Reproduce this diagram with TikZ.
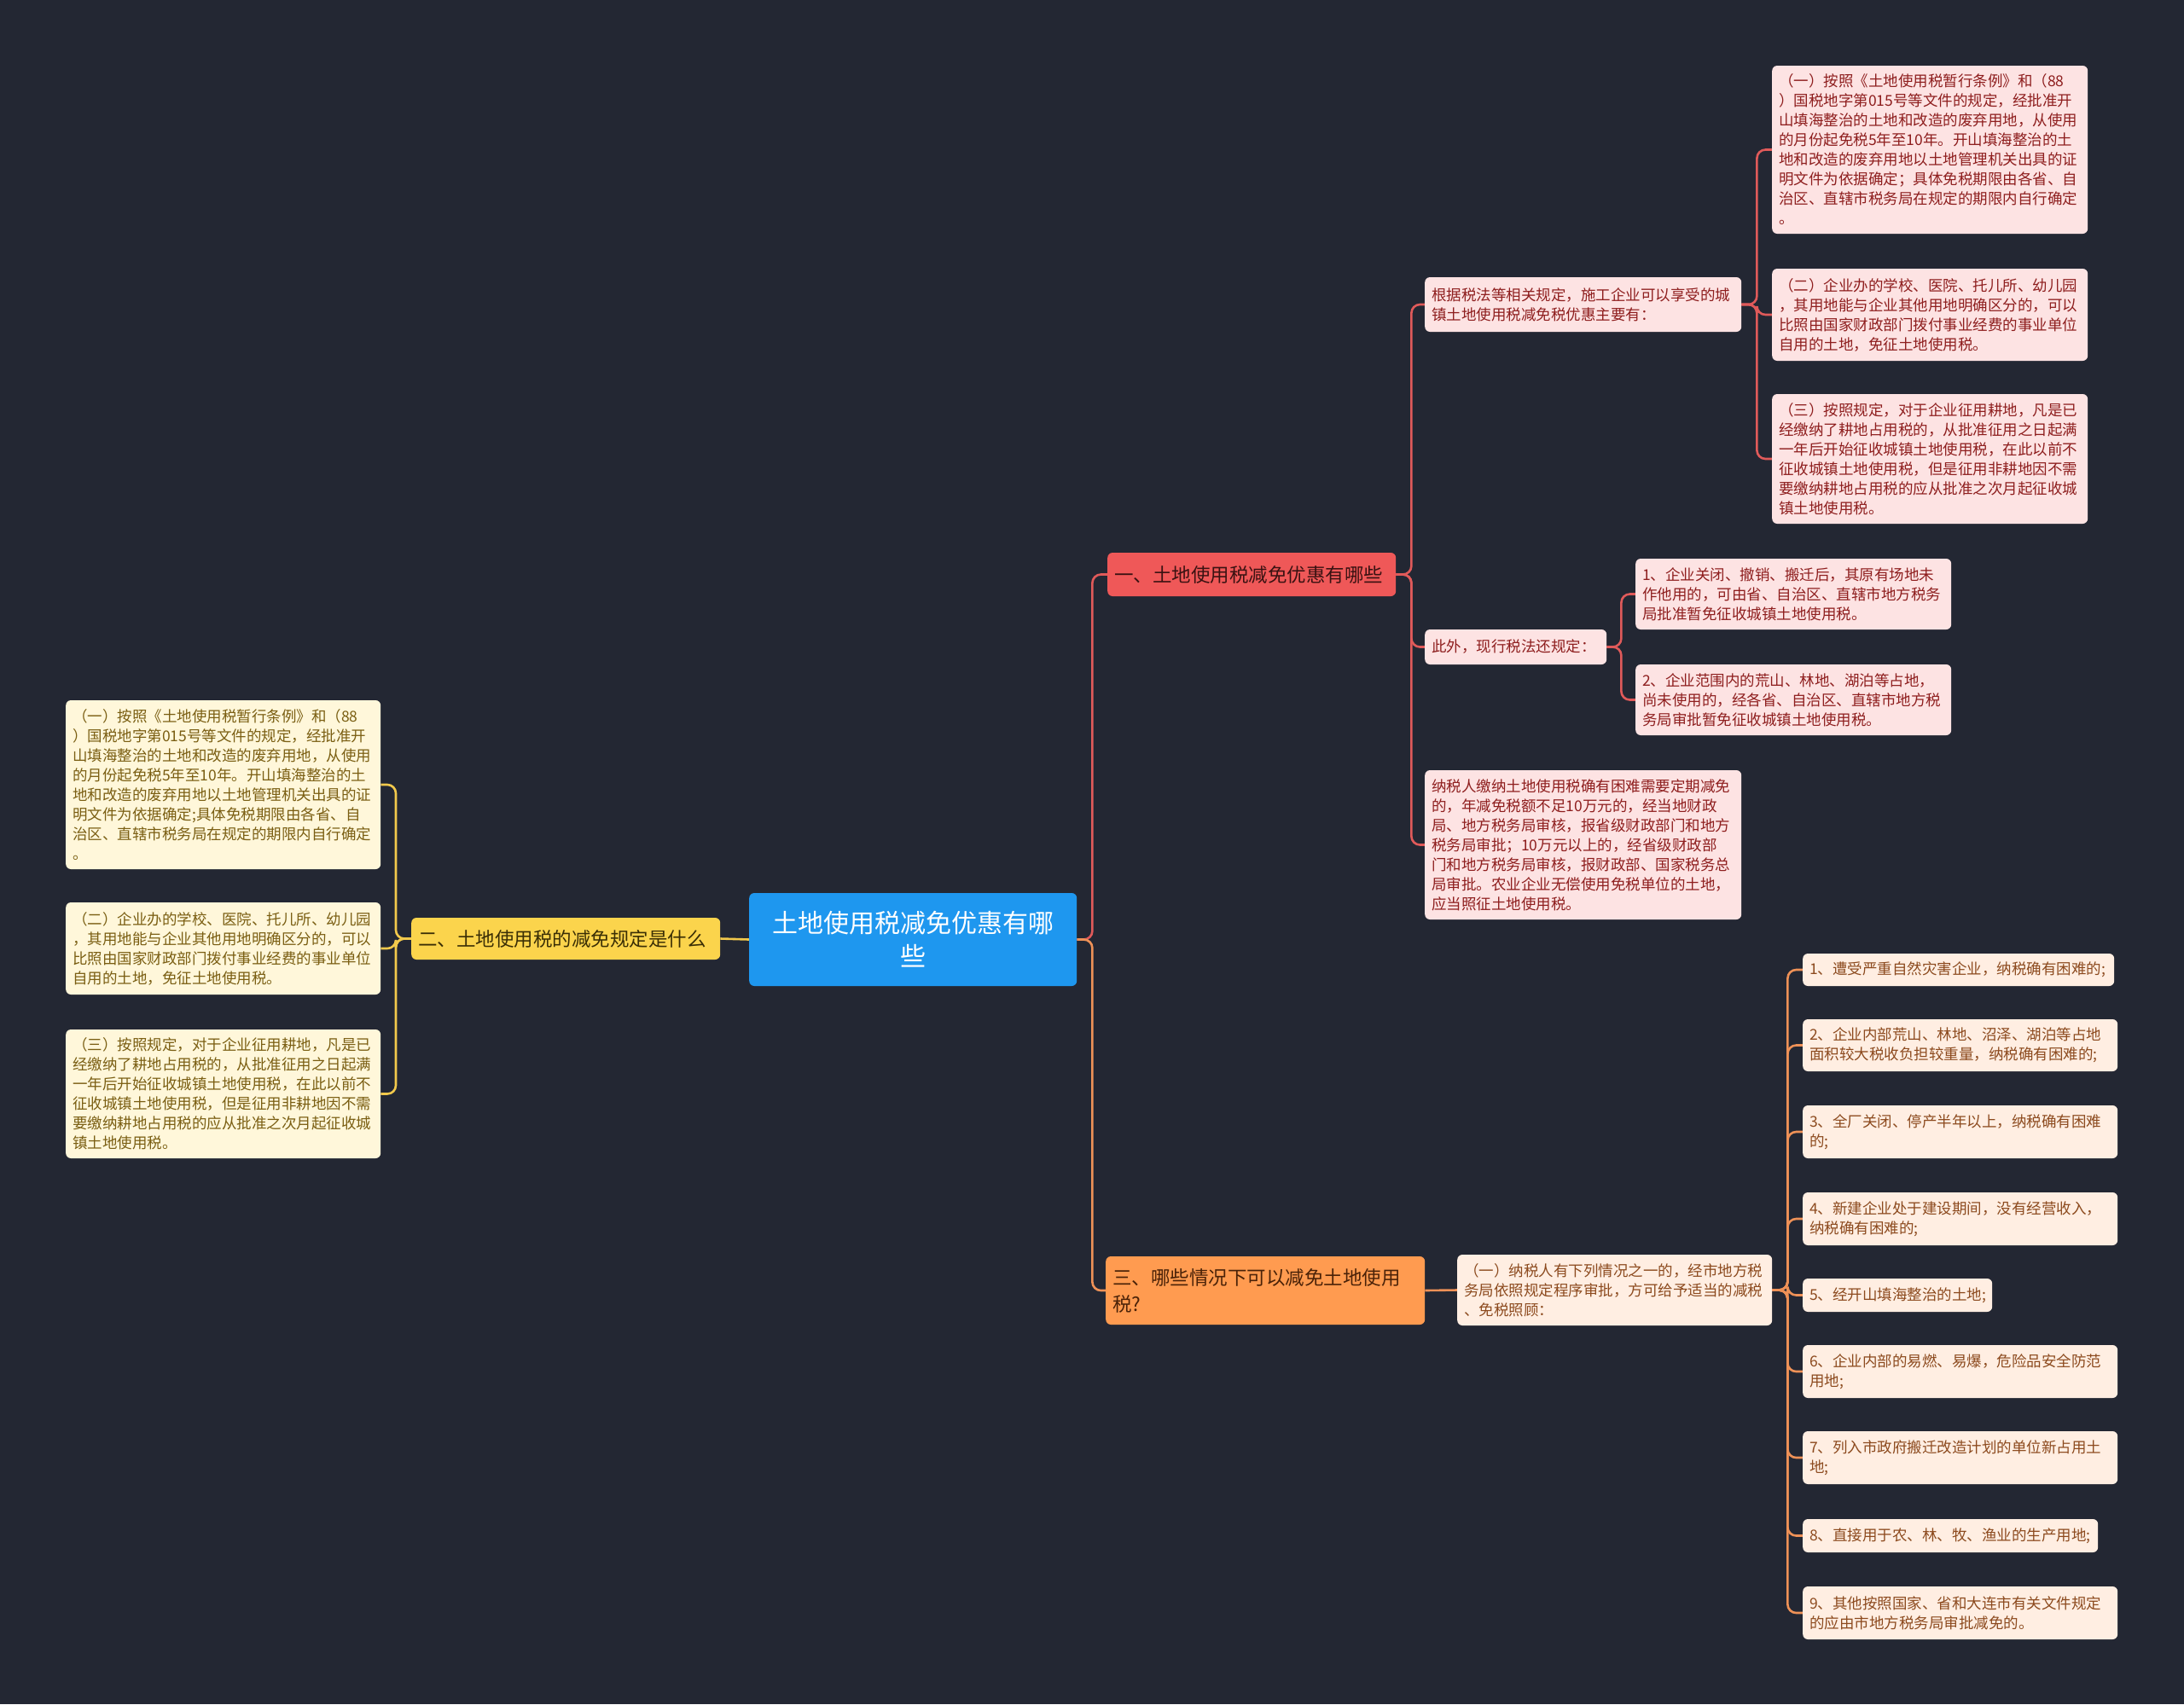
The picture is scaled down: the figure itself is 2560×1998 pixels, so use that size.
\documentclass[tikz,border=0pt]{standalone}
\usepackage{fontspec}
\setmainfont{Noto Sans CJK SC}
\definecolor{bgc}{HTML}{232733}
\definecolor{rootfill}{HTML}{1E97EF}
\definecolor{redfill}{HTML}{EF5858}
\definecolor{redtext}{HTML}{3A1212}
\definecolor{yelfill}{HTML}{FBD44C}
\definecolor{yeltext}{HTML}{3A2E05}
\definecolor{orafill}{HTML}{FF9B50}
\definecolor{oratext}{HTML}{4A2208}
\definecolor{leafRfill}{HTML}{FDE3E3}
\definecolor{leafRtext}{HTML}{8E1E1E}
\definecolor{leafYfill}{HTML}{FFF7DA}
\definecolor{leafYtext}{HTML}{7A5E12}
\definecolor{leafOfill}{HTML}{FFEEE2}
\definecolor{leafOtext}{HTML}{8C4A1E}
\definecolor{lineR}{HTML}{E05A5A}
\definecolor{lineY}{HTML}{F2C94C}
\definecolor{lineO}{HTML}{EE9157}
\pgfdeclarelayer{bglayer}
\pgfsetlayers{bglayer,main}
\begin{document}
\begin{tikzpicture}[x=1pt,y=-1pt,
  base/.style={rounded corners=6pt, inner xsep=8pt, inner ysep=3pt, anchor=west, align=left, font=\fontsize{17.5}{23}\selectfont},
  leafR/.style={base, fill=leafRfill, text=leafRtext},
  leafY/.style={base, fill=leafYfill, text=leafYtext},
  leafO/.style={base, fill=leafOfill, text=leafOtext},
  branchR/.style={base, fill=redfill, text=redtext, font=\fontsize{22.5}{31}\selectfont},
  branchY/.style={base, fill=yelfill, text=yeltext, font=\fontsize{22.5}{31}\selectfont},
  branchO/.style={base, fill=orafill, text=oratext, font=\fontsize{22.5}{31}\selectfont},
  rootbox/.style={base, fill=rootfill, text=white, align=center, font=\fontsize{30}{39}\selectfont},
  conR/.style={draw=lineR, line width=2.6pt, rounded corners=10pt},
  conY/.style={draw=lineY, line width=2.6pt, rounded corners=10pt},
  conO/.style={draw=lineO, line width=2.6pt, rounded corners=10pt}
]
% root
\node[rootbox, text width=368pt, minimum height=109pt] (root) at (878,1101.5) {土地使用税减免优惠有哪\\些};

% branch 1
\node[branchR, text width=322pt, minimum height=51pt] (n1) at (1298,673.5) {一、土地使用税减免优惠有哪些};
\node[leafR, text width=355pt, minimum height=64pt] (a) at (1670,357) {根据税法等相关规定，施工企业可以享受的城\\镇土地使用税减免税优惠主要有：};
\node[leafR, text width=197pt, minimum height=41pt] (b) at (1670,758.5) {此外，现行税法还规定：};
\node[leafR, text width=355pt, minimum height=175pt] (c) at (1670,990.5) {纳税人缴纳土地使用税确有困难需要定期减免\\的，年减免税额不足10万元的，经当地财政\\局、地方税务局审核，报省级财政部门和地方\\税务局审批；10万元以上的，经省级财政部\\门和地方税务局审核，报财政部、国家税务总\\局审批。农业企业无偿使用免税单位的土地，\\应当照征土地使用税。};
\node[leafR, text width=354pt, minimum height=197pt] (a1) at (2077,175.5) {（一）按照《土地使用税暂行条例》和（88\\）国税地字第015号等文件的规定，经批准开\\山填海整治的土地和改造的废弃用地，从使用\\的月份起免税5年至10年。开山填海整治的土\\地和改造的废弃用地以土地管理机关出具的证\\明文件为依据确定；具体免税期限由各省、自\\治区、直辖市税务局在规定的期限内自行确定\\。};
\node[leafR, text width=354pt, minimum height=108pt] (a2) at (2077,369) {（二）企业办的学校、医院、托儿所、幼儿园\\，其用地能与企业其他用地明确区分的，可以\\比照由国家财政部门拨付事业经费的事业单位\\自用的土地，免征土地使用税。};
\node[leafR, text width=354pt, minimum height=152pt] (a3) at (2077,538) {（三）按照规定，对于企业征用耕地，凡是已\\经缴纳了耕地占用税的，从批准征用之日起满\\一年后开始征收城镇土地使用税，在此以前不\\征收城镇土地使用税，但是征用非耕地因不需\\要缴纳耕地占用税的应从批准之次月起征收城\\镇土地使用税。};
\node[leafR, text width=354pt, minimum height=83pt] (b1) at (1917,696.5) {1、企业关闭、撤销、搬迁后，其原有场地未\\作他用的，可由省、自治区、直辖市地方税务\\局批准暂免征收城镇土地使用税。};
\node[leafR, text width=354pt, minimum height=83pt] (b2) at (1917,820.5) {2、企业范围内的荒山、林地、湖泊等占地，\\尚未使用的，经各省、自治区、直辖市地方税\\务局审批暂免征收城镇土地使用税。};

% branch 2
\node[branchY, text width=346pt, minimum height=49pt] (n2) at (482,1100.5) {二、土地使用税的减免规定是什么};
\node[leafY, text width=353pt, minimum height=198pt] (d1) at (77,920) {（一）按照《土地使用税暂行条例》和（88\\）国税地字第015号等文件的规定，经批准开\\山填海整治的土地和改造的废弃用地，从使用\\的月份起免税5年至10年。开山填海整治的土\\地和改造的废弃用地以土地管理机关出具的证\\明文件为依据确定;具体免税期限由各省、自\\治区、直辖市税务局在规定的期限内自行确定\\。};
\node[leafY, text width=353pt, minimum height=108pt] (d2) at (77,1112) {（二）企业办的学校、医院、托儿所、幼儿园\\，其用地能与企业其他用地明确区分的，可以\\比照由国家财政部门拨付事业经费的事业单位\\自用的土地，免征土地使用税。};
\node[leafY, text width=353pt, minimum height=151pt] (d3) at (77,1282.5) {（三）按照规定，对于企业征用耕地，凡是已\\经缴纳了耕地占用税的，从批准征用之日起满\\一年后开始征收城镇土地使用税，在此以前不\\征收城镇土地使用税，但是征用非耕地因不需\\要缴纳耕地占用税的应从批准之次月起征收城\\镇土地使用税。};

% branch 3
\node[branchO, text width=358pt, minimum height=80pt] (n3) at (1296,1513) {三、哪些情况下可以减免土地使用\\税?};
\node[leafO, text width=353pt, minimum height=83pt] (e) at (1708,1512.5) {（一）纳税人有下列情况之一的，经市地方税\\务局依照规定程序审批，方可给予适当的减税\\、免税照顾：};
\node[leafO, text width=349pt, minimum height=38pt] (e1) at (2113,1137) {1、遭受严重自然灾害企业，纳税确有困难的;};
\node[leafO, text width=353pt, minimum height=61pt] (e2) at (2113,1225.5) {2、企业内部荒山、林地、沼泽、湖泊等占地\\面积较大税收负担较重量，纳税确有困难的;};
\node[leafO, text width=353pt, minimum height=62pt] (e3) at (2113,1327) {3、全厂关闭、停产半年以上，纳税确有困难\\的;};
\node[leafO, text width=353pt, minimum height=62pt] (e4) at (2113,1429) {4、新建企业处于建设期间，没有经营收入，\\纳税确有困难的;};
\node[leafO, text width=206pt, minimum height=39pt] (e5) at (2113,1518.5) {5、经开山填海整治的土地;};
\node[leafO, text width=353pt, minimum height=62pt] (e6) at (2113,1608) {6、企业内部的易燃、易爆，危险品安全防范\\用地;};
\node[leafO, text width=353pt, minimum height=62pt] (e7) at (2113,1709) {7、列入市政府搬迁改造计划的单位新占用土\\地;};
\node[leafO, text width=330pt, minimum height=39pt] (e8) at (2113,1800.5) {8、直接用于农、林、牧、渔业的生产用地;};
\node[leafO, text width=353pt, minimum height=62pt] (e9) at (2113,1891) {9、其他按照国家、省和大连市有关文件规定\\的应由市地方税务局审批减免的。};

\begin{pgfonlayer}{bglayer}
\fill[bgc] (0,0) rectangle (2560,1998);
% root connectors
\draw[conR] (root.east) -- ++(18,0) |- (n1.west);
\draw[conO] (root.east) -- ++(18,0) |- (n3.west);
\draw[conY] (root.west) -- (n2.east);
% branch 1
\foreach \c in {a,b,c} \draw[conR] (n1.east) -- ++(18,0) |- (\c.west);
\foreach \c in {a1,a2,a3} \draw[conR] (a.east) -- ++(18,0) |- (\c.west);
\foreach \c in {b1,b2} \draw[conR] (b.east) -- ++(17,0) |- (\c.west);
% branch 2
\foreach \c in {d1,d2,d3} \draw[conY] (n2.west) -- ++(-18,0) |- (\c.east);
% branch 3
\draw[conO] (n3.east) -- (e.west);
\foreach \c in {e1,e2,e3,e4,e5,e6,e7,e8,e9} \draw[conO] (e.east) -- ++(18,0) |- (\c.west);
\end{pgfonlayer}
\end{tikzpicture}
\end{document}
